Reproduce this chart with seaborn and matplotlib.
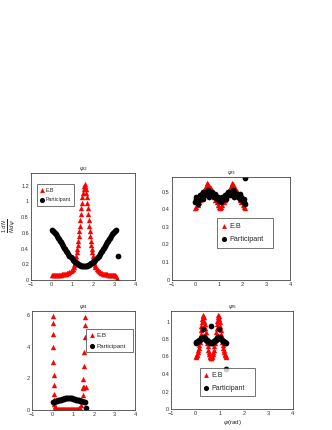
import numpy as np
import matplotlib
matplotlib.use('Agg')
import matplotlib.pyplot as plt
import pandas as pd
import seaborn as sns
from matplotlib.ticker import MultipleLocator, FuncFormatter

# ---- psi_2 ----
psi2_eb_x = [0.00, 0.05, 0.10, 0.15, 0.20, 0.25, 0.30, 0.35, 0.40, 0.45, 0.50, 0.55, 0.60, 0.65,
             0.70, 0.75, 0.80, 0.85, 0.90, 0.95, 1.00, 1.05,
             1.075, 1.10, 1.125, 1.15, 1.175, 1.20, 1.225, 1.25, 1.275, 1.30, 1.325, 1.35, 1.375,
             1.40, 1.425, 1.45, 1.475, 1.50, 1.525, 1.55, 1.575, 1.60, 1.625, 1.65, 1.675, 1.70,
             1.725, 1.75, 1.775, 1.80, 1.825, 1.85, 1.875, 1.90, 1.925, 1.95, 1.975, 2.00, 2.025,
             2.05, 2.075,
             2.10, 2.15, 2.20, 2.25, 2.30, 2.35, 2.40, 2.45, 2.50, 2.55, 2.60, 2.65, 2.70, 2.75,
             2.80, 2.85, 2.90, 2.95, 3.00, 3.05, 3.10, 3.12, 3.14]
psi2_eb_y = [0.060, 0.060, 0.060, 0.061, 0.062, 0.063, 0.064, 0.065, 0.066, 0.068, 0.070, 0.072,
             0.075, 0.078, 0.082, 0.087, 0.093, 0.10, 0.11, 0.125, 0.14, 0.17,
             0.19, 0.21, 0.24, 0.27, 0.31, 0.35, 0.40, 0.45, 0.50, 0.56, 0.62, 0.69, 0.76,
             0.84, 0.91, 0.98, 1.05, 1.11, 1.16, 1.20, 1.22, 1.20, 1.16, 1.11, 1.05, 0.98,
             0.91, 0.84, 0.76, 0.69, 0.62, 0.56, 0.50, 0.45, 0.40, 0.35, 0.31, 0.27, 0.24,
             0.21, 0.19,
             0.17, 0.14, 0.125, 0.11, 0.10, 0.093, 0.087, 0.082, 0.078, 0.075, 0.072, 0.070,
             0.068, 0.066, 0.065, 0.064, 0.063, 0.062, 0.061, 0.060, 0.055, 0.03, 0.0]
psi2_part_x = [0.00, 0.05, 0.10, 0.15, 0.20, 0.25, 0.30, 0.35, 0.40, 0.45, 0.50, 0.55, 0.60, 0.65,
               0.70, 0.75, 0.80, 0.85, 0.90, 0.95, 1.00, 1.05, 1.10, 1.15, 1.20, 1.25, 1.30, 1.35,
               1.40, 1.45, 1.50, 1.55, 1.60, 1.65, 1.70, 1.75, 1.80, 1.85, 1.90, 1.95, 2.00, 2.05,
               2.10, 2.15, 2.20, 2.25, 2.30, 2.35, 2.40, 2.45, 2.50, 2.55, 2.60, 2.65, 2.70, 2.75,
               2.80, 2.85, 2.90, 2.95, 3.00, 3.05, 3.10, 3.17]
psi2_part_y = [0.63, 0.62, 0.61, 0.595, 0.58, 0.56, 0.54, 0.52, 0.50, 0.48, 0.46, 0.435, 0.41, 0.39,
               0.37, 0.35, 0.33, 0.31, 0.29, 0.275, 0.26, 0.245, 0.23, 0.22, 0.21, 0.20, 0.19, 0.185,
               0.18, 0.18, 0.18, 0.18, 0.18, 0.18, 0.18, 0.185, 0.19, 0.20, 0.21, 0.22, 0.23, 0.245,
               0.26, 0.275, 0.29, 0.31, 0.33, 0.35, 0.37, 0.39, 0.41, 0.435, 0.46, 0.48, 0.50, 0.52,
               0.54, 0.56, 0.58, 0.595, 0.61, 0.62, 0.63, 0.31]

# ---- psi_3 ----
psi3_x = [0.00, 0.05, 0.10, 0.15, 0.20, 0.25, 0.30, 0.35, 0.40, 0.45, 0.50, 0.55, 0.60, 0.65,
          0.70, 0.75, 0.80, 0.85, 0.90, 0.95, 1.00, 1.05, 1.10, 1.15, 1.20, 1.25, 1.30, 1.35,
          1.40, 1.45, 1.50, 1.55, 1.60, 1.65, 1.70, 1.75, 1.80, 1.85, 1.90, 1.95, 2.00, 2.05, 2.10]
psi3_eb_y = [0.41, 0.415, 0.425, 0.44, 0.455, 0.47, 0.49, 0.505, 0.52, 0.535, 0.55, 0.545, 0.535,
             0.52, 0.505, 0.49, 0.47, 0.455, 0.44, 0.425, 0.415, 0.41, 0.415, 0.425, 0.44, 0.455,
             0.47, 0.49, 0.505, 0.52, 0.535, 0.55, 0.545, 0.535, 0.52, 0.505, 0.49, 0.47, 0.455,
             0.44, 0.425, 0.415, 0.41]
psi3_part_y = [0.44, 0.46, 0.45, 0.47, 0.48, 0.47, 0.49, 0.50, 0.48, 0.50, 0.49, 0.51, 0.50, 0.48,
               0.50, 0.49, 0.47, 0.48, 0.46, 0.47, 0.45, 0.46, 0.45, 0.47, 0.46, 0.48, 0.47, 0.49,
               0.50, 0.48, 0.50, 0.49, 0.51, 0.50, 0.48, 0.49, 0.47, 0.48, 0.46, 0.47, 0.45, 0.44, 0.43]
psi3_part_extra_x = [0.02, 0.12, 0.33, 0.58, 0.83, 1.08, 1.32, 1.62, 1.88, 2.06, 2.11]
psi3_part_extra_y = [0.47, 0.43, 0.46, 0.47, 0.49, 0.44, 0.46, 0.47, 0.49, 0.46, 0.578]

# ---- psi_4 ----
psi4_eb_x = [0.00, 0.01, 0.02, 0.03, 0.04, 0.05, 0.06, 0.07, 0.08, 0.09, 0.10, 0.12, 0.14, 0.16,
             0.20, 0.25, 0.30, 0.35, 0.40, 0.45, 0.50, 0.55, 0.60, 0.65, 0.70, 0.75, 0.80, 0.85,
             0.90, 0.95, 1.00, 1.05, 1.10, 1.15, 1.20, 1.25, 1.30, 1.35, 1.40, 1.43, 1.46, 1.48,
             1.47, 1.50, 1.49, 1.61, 1.51, 1.52, 1.55, 1.57, 1.59]
psi4_eb_y = [5.95, 5.5, 4.8, 3.95, 3.05, 2.2, 1.6, 1.02, 0.65, 0.4, 0.25, 0.15, 0.1, 0.07,
             0.06, 0.05, 0.05, 0.05, 0.05, 0.05, 0.05, 0.05, 0.05, 0.05, 0.05, 0.05, 0.05, 0.05,
             0.05, 0.05, 0.05, 0.05, 0.05, 0.05, 0.06, 0.07, 0.1, 0.15, 0.3, 0.55, 0.97, 1.38,
             1.96, 1.48, 1.45, 1.47, 2.78, 3.65, 4.6, 5.34, 5.84]
psi4_part_x = [0.00, 0.05, 0.10, 0.15, 0.20, 0.25, 0.30, 0.35, 0.40, 0.45, 0.50, 0.55, 0.60, 0.65,
               0.70, 0.75, 0.80, 0.85, 0.90, 0.95, 1.00, 1.05, 1.10, 1.15, 1.20, 1.25, 1.30, 1.35,
               1.40, 1.45, 1.50, 1.55, 1.60]
psi4_part_y = [0.50, 0.52, 0.54, 0.56, 0.58, 0.60, 0.62, 0.64, 0.66, 0.68, 0.70, 0.72, 0.74, 0.76,
               0.77, 0.78, 0.78, 0.77, 0.76, 0.74, 0.72, 0.70, 0.68, 0.66, 0.64, 0.62, 0.60, 0.58,
               0.56, 0.54, 0.52, 0.50, 0.10]

# ---- psi_5 ----
psi5_eb_x = [0.00, 0.02, 0.04, 0.06, 0.08, 0.10, 0.12, 0.14, 0.16, 0.18, 0.20, 0.22, 0.24, 0.26,
             0.28, 0.30, 0.32, 0.34, 0.36, 0.38, 0.40, 0.42, 0.44, 0.46, 0.48, 0.50, 0.52, 0.54,
             0.56, 0.58, 0.60, 0.62, 0.64, 0.66, 0.68, 0.70, 0.72, 0.74, 0.76, 0.78, 0.80, 0.82,
             0.84, 0.86, 0.88, 0.90, 0.92, 0.94, 0.96, 0.98, 1.00, 1.02, 1.04, 1.06, 1.08, 1.10,
             1.12, 1.14, 1.16, 1.18, 1.20, 1.22, 1.24, 1.26]
psi5_eb_y = [0.60, 0.605, 0.615, 0.63, 0.65, 0.675, 0.70, 0.735, 0.77, 0.81, 0.855, 0.90, 0.945,
             0.99, 1.03, 1.06, 1.07, 1.05, 1.01, 0.97, 0.925, 0.88, 0.835, 0.79, 0.75, 0.715, 0.68,
             0.655, 0.63, 0.61, 0.595, 0.585, 0.585, 0.595, 0.61, 0.63, 0.655, 0.68, 0.715, 0.75,
             0.79, 0.835, 0.88, 0.925, 0.97, 1.01, 1.05, 1.07, 1.06, 1.03, 0.99, 0.945, 0.90,
             0.855, 0.81, 0.77, 0.735, 0.70, 0.675, 0.65, 0.63, 0.615, 0.605, 0.60]
psi5_part_x = [0.00, 0.03, 0.06, 0.09, 0.12, 0.15, 0.18, 0.21, 0.24, 0.27, 0.30, 0.33, 0.36, 0.39,
               0.42, 0.45, 0.48, 0.51, 0.54, 0.57, 0.60, 0.63, 0.66, 0.69, 0.72, 0.75, 0.78, 0.81,
               0.84, 0.87, 0.90, 0.93, 0.96, 0.99, 1.02, 1.05, 1.08, 1.11, 1.14, 1.17, 1.20, 1.23,
               1.26, 0.29, 0.63, 0.98, 1.25]
psi5_part_y = [0.76, 0.77, 0.77, 0.78, 0.78, 0.79, 0.79, 0.80, 0.81, 0.81, 0.82, 0.82, 0.81, 0.80,
               0.79, 0.79, 0.78, 0.78, 0.77, 0.77, 0.76, 0.76, 0.76, 0.77, 0.77, 0.78, 0.78, 0.79,
               0.79, 0.80, 0.81, 0.82, 0.82, 0.81, 0.81, 0.80, 0.79, 0.78, 0.78, 0.77, 0.77, 0.76,
               0.76, 0.92, 0.95, 0.92, 0.455]

W, H = 332, 430


def fig_rect(left, top, right, bottom):
    return [left / W, 1 - bottom / H, (right - left) / W, (bottom - top) / H]


def style_axis(ax, ylim, ymajor, yminor):
    ax.set_xlim(-1, 4)
    ax.set_ylim(0, ylim)
    ax.xaxis.set_major_locator(MultipleLocator(1))
    ax.xaxis.set_minor_locator(MultipleLocator(0.2))
    ax.yaxis.set_major_locator(MultipleLocator(ymajor))
    ax.yaxis.set_minor_locator(MultipleLocator(yminor))
    fmt = FuncFormatter(lambda v, p: f'{v:g}'.replace('-', '\u2212'))
    ax.xaxis.set_major_formatter(fmt)
    ax.yaxis.set_major_formatter(fmt)
    ax.tick_params(which='both', direction='in', labelsize=4, pad=1.5, width=0.4,
                   top=False, right=False, colors='#333333')
    ax.tick_params(which='major', length=3)
    ax.tick_params(which='minor', length=1.5)
    for sp in ax.spines.values():
        sp.set_linewidth(0.6)
        sp.set_color('#444444')
    ax.set_xlabel('')
    ax.set_ylabel('')


def draw_panel(ax, title, eb_x, eb_y, part_x, part_y, legend_box, legend_fs):
    sns.scatterplot(x=eb_x, y=eb_y, marker='^', color='red', s=15, linewidth=0,
                    ax=ax, label='E.B', legend=False)
    sns.scatterplot(x=part_x, y=part_y, marker='o', color='black', s=17, linewidth=0,
                    ax=ax, label='Participant', legend=False)
    ax.set_title(title, fontsize=4.5, pad=2.5)
    h, l = ax.get_legend_handles_labels()
    leg = ax.legend(h[:2], l[:2], loc='center', bbox_to_anchor=legend_box, mode='expand',
                    fontsize=legend_fs, frameon=True, fancybox=False, borderpad=0.6,
                    handlelength=0.6, handletextpad=0.5, labelspacing=0.9, markerscale=0.9,
                    borderaxespad=0)
    leg.get_frame().set_edgecolor('#333333')
    leg.get_frame().set_linewidth(0.6)


sns.set_style('white')
plt.rcParams['font.family'] = ['Liberation Sans', 'DejaVu Sans']
plt.rcParams['mathtext.fontset'] = 'dejavusans'

fig = plt.figure(figsize=(W / 100, H / 100), dpi=100)
fig.patch.set_facecolor('white')

ax1 = fig.add_axes(fig_rect(31, 173, 135, 280))
draw_panel(ax1, r'$\psi_2$', psi2_eb_x, psi2_eb_y, psi2_part_x, psi2_part_y,
           (0.058, 0.673, 0.355, 0.243), 3.8)
style_axis(ax1, 1.36, 0.2, 0.05)

ax2 = fig.add_axes(fig_rect(171.5, 177, 290, 279.5))
draw_panel(ax2, r'$\psi_3$', psi3_x, psi3_eb_y, psi3_x + psi3_part_extra_x,
           psi3_part_y + psi3_part_extra_y, (0.384, 0.327, 0.473, 0.253), 5.2)
style_axis(ax2, 0.585, 0.1, 0.02)

ax3 = fig.add_axes(fig_rect(32, 311, 135, 410))
draw_panel(ax3, r'$\psi_4$', psi4_eb_x, psi4_eb_y, psi4_part_x, psi4_part_y,
           (0.524, 0.576, 0.457, 0.252), 4.5)
style_axis(ax3, 6.25, 2, 0.5)

ax4 = fig.add_axes(fig_rect(171.4, 311, 292.7, 409))
draw_panel(ax4, r'$\psi_5$', psi5_eb_x, psi5_eb_y, psi5_part_x, psi5_part_y,
           (0.236, 0.143, 0.453, 0.265), 5.0)
style_axis(ax4, 1.12, 0.2, 0.05)
ax4.set_xlabel(r'$\psi$(rad)', fontsize=4.5, labelpad=1.5)

fig.text(9 / W, 1 - 226 / H, r'$\frac{1}{N}\frac{dN}{d\psi}$', rotation=90, fontsize=5.5,
         ha='center', va='center')

fig.savefig('out.png', dpi=100, facecolor='white')
